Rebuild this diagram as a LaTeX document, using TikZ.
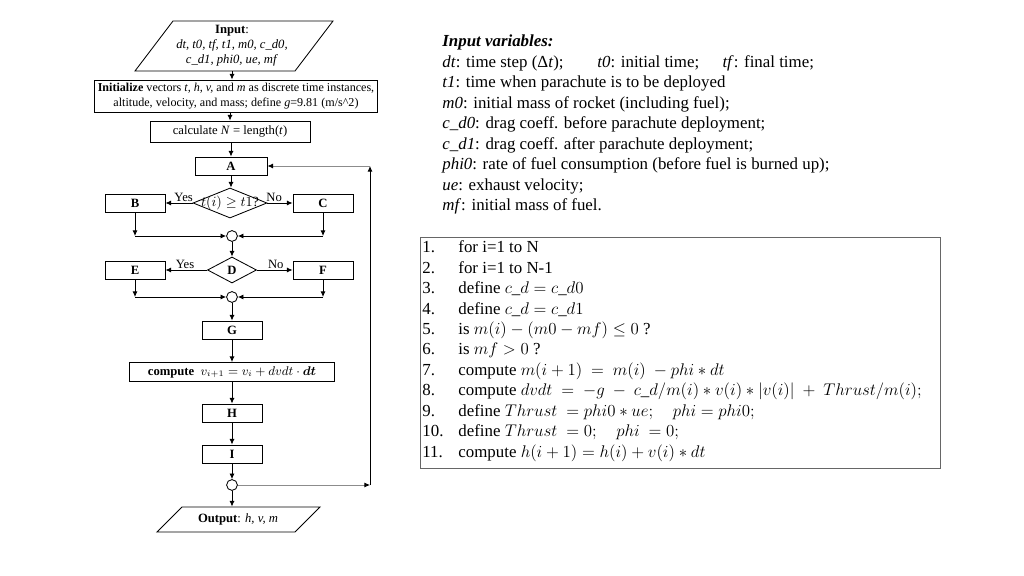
\documentclass[tikz,border=0pt]{standalone}
\usepackage{fontspec}
\setmainfont{Liberation Serif}
\usepackage{amsmath}
\usetikzlibrary{arrows.meta,positioning,shapes.geometric}

\begin{document}
\begin{tikzpicture}[x=0.025cm,y=-0.025cm,line width=0.6pt,font=\fontsize{9}{10.6}\selectfont,
  box/.style={draw,minimum width=1.5cm,minimum height=0.45cm,inner sep=1pt,align=center,font=\fontsize{9}{10}\selectfont\bfseries},
  wbox/.style={draw,inner sep=1pt,align=center},
  dec/.style={draw,diamond,minimum width=#1,minimum height=0.7cm},
  jpoint/.style={draw,circle,inner sep=0pt,minimum size=0.27cm},
  arr/.style={-{Latex[length=4pt,width=3.6pt]}},
  back/.style={draw=black!45,-{Latex[length=4pt,width=3.6pt,color=black]}},
  lbl/.style={font=\fontsize{9}{10}\selectfont,inner sep=1pt},
  txt/.style={anchor=base west,inner sep=0pt,font=\fontsize{12}{14}\selectfont},
  num/.style={txt}]
\useasboundingbox (0,0) rectangle (1024,576);

% flow chart
\node[inner sep=0pt,minimum height=1.25cm,align=center] (inp) at (232,46)
  {\textbf{Input}:\\\textit{dt, t0, tf, t1, m0, c\_d0,}\\\textit{c\_d1, phi0, ue, mf}};
\draw (inp.center) ++(-97,25) -- ++(38,-50) -- ++(160,0) -- ++(-38,50) -- cycle;
\node[wbox,minimum width=7.075cm,minimum height=0.8cm,font=\fontsize{8.6}{10.2}\selectfont] (init) at (236,96)
  {\textbf{Initialize} vectors \textit{t, h, v,} and \textit{m} as discrete time instances,\\altitude, velocity, and mass; define \textit{g}=9.81 (m/s\^{}2)};
\node[wbox,minimum width=4cm,minimum height=0.525cm] (calc) at (230,131.5) {calculate \textit{N} = length(\textit{t})};
\node[box,minimum width=1.8cm] (A) at (231,166) {A};
\node[dec=1.85cm,aspect=2.5,inner sep=-3pt,minimum height=0.75cm,font=\fontsize{10}{11}\selectfont] (d1) at (230,203) {$t(i)\geq t1$?};
\node[box] (B) at (135,203) {B};
\node[box] (C) at (323,203) {C};
\node[jpoint] (j1) at (232,236) {};
\node[dec=1.225cm,aspect=1.9,inner sep=0pt,minimum height=0.65cm,font=\fontsize{9}{10}\selectfont\bfseries] (D) at (232,270) {D};
\node[box] (E) at (135,270) {E};
\node[box] (F) at (323,270) {F};
\node[jpoint] (j2) at (232,297) {};
\node[box] (G) at (232,330) {G};
\node[wbox,minimum width=5.125cm,minimum height=0.475cm] (comp) at (232,372)
  {\textbf{compute} \ $v_{i+1} = v_i + dvdt\cdot\boldsymbol{dt}$};
\node[box] (H) at (232,413) {H};
\node[box] (I) at (232,454) {I};
\node[jpoint] (j3) at (232,485) {};
\node[inner sep=0pt,minimum height=0.625cm] (out) at (238,519.5) {\textbf{Output}: \textit{h, v, m}};
\draw (out.center) ++(-81,12.5) -- ++(25,-25) -- ++(138,0) -- ++(-25,25) -- cycle;
\coordinate (lp) at (370,485);

\draw[arr] (inp) -- (inp |- init.north);
\draw[arr] (init.south -| calc) -- (calc);
\draw[arr] (calc.south -| A) -- (A);
\draw[arr] (A) -- (A |- d1.north);
\draw[arr] (d1) -- node[lbl,above,pos=0.33] {Yes} (B);
\draw[arr] (d1) -- node[lbl,above,pos=0.27] {No} (C);
\draw[arr] (B) -- (B |- j1);
\draw[arr] (B |- j1) -- (j1);
\draw[arr] (C) -- (C |- j1);
\draw[arr] (C |- j1) -- (j1);
\draw[arr] (j1) -- (D);
\draw[arr] (D) -- node[lbl,above,pos=0.53] {Yes} (E);
\draw[arr] (D) -- node[lbl,above,pos=0.53] {No} (F);
\draw[arr] (E) -- (E |- j2);
\draw[arr] (E |- j2) -- (j2);
\draw[arr] (F) -- (F |- j2);
\draw[arr] (F |- j2) -- (j2);
\draw[arr] (j2) -- (G);
\draw[arr] (G) -- (comp);
\draw[arr] (comp) -- (H);
\draw[arr] (H) -- (I);
\draw[arr] (I) -- (j3);
\draw[arr] (j3) -- (j3 |- out.north);
\draw[back] (j3) -- (lp);
\draw[arr] (lp) -- (lp |- A);
\draw[back] (lp |- A) -- (A);

% input variables
\node[txt] (v1) at (442,47) {\textbf{\textit{Input variables:}}};
\node[txt] (v2) at (442,67.5) {\makebox[3.875cm][l]{\textit{dt}: time step (Δ\textit{t});}\makebox[3.125cm][l]{\textit{t0}: initial time;}\textit{tf}: final time;};
\node[txt] (v3) at (442,88) {\textit{t1}: time when parachute is to be deployed};
\node[txt] (v4) at (442,108.5) {\textit{m0}: initial mass of rocket (including fuel);};
\node[txt] (v5) at (442,129) {\textit{c\_d0}: drag coeff. before parachute deployment;};
\node[txt] (v6) at (442,149.5) {\textit{c\_d1}: drag coeff. after parachute deployment;};
\node[txt] (v7) at (442,170) {\textit{phi0}: rate of fuel consumption (before fuel is burned up);};
\node[txt] (v8) at (442,190.5) {\textit{ue}: exhaust velocity;};
\node[txt] (v9) at (442,211) {\textit{mf}: initial mass of fuel.};

% steps
\node[draw=black!60,anchor=north west,minimum width=13cm,minimum height=5.775cm,inner sep=0pt] (steps) at (420,237) {};
\node[num] (s1) at (422,253) {\makebox[0.9cm][l]{1.}for i=1 to N};
\node[num] (s2) at (422,273.4) {\makebox[0.9cm][l]{2.}for i=1 to N-1};
\node[num] (s3) at (422,293.8) {\makebox[0.9cm][l]{3.}define $c\_d = c\_d0$};
\node[num] (s4) at (422,314.2) {\makebox[0.9cm][l]{4.}define $c\_d = c\_d1$};
\node[num] (s5) at (422,334.6) {\makebox[0.9cm][l]{5.}is $m(i)-(m0-mf)\leq 0$ ?};
\node[num] (s6) at (422,355) {\makebox[0.9cm][l]{6.}is $mf>0$ ?};
\node[num] (s7) at (422,375.4) {\makebox[0.9cm][l]{7.}compute $m(i+1)\ =\ m(i)\ -phi*dt$};
\node[num] (s8) at (422,395.8) {\makebox[0.9cm][l]{8.}compute $dvdt\ =\ -g\ -\ c\_d/m(i)*v(i)*|v(i)|\ +\ Thrust/m(i);$};
\node[num] (s9) at (422,416.2) {\makebox[0.9cm][l]{9.}define $Thrust\ = phi0*ue;\quad phi = phi0;$};
\node[num] (s10) at (422,436.6) {\makebox[0.9cm][l]{10.}define $Thrust\ = 0;\quad phi\ = 0;$};
\node[num] (s11) at (422,457) {\makebox[0.9cm][l]{11.}compute $h(i+1) = h(i)+v(i)*dt$};
\end{tikzpicture}
\end{document}
